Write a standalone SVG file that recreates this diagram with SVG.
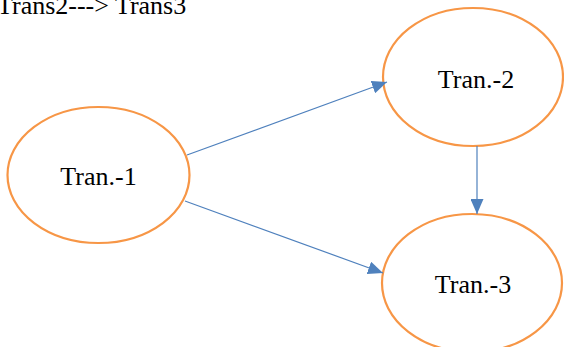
<svg xmlns="http://www.w3.org/2000/svg" width="564" height="347" viewBox="0 0 564 347">
<style>
.node ellipse{fill:#ffffff;stroke:#f79646;stroke-width:2.2}
.edge{stroke:#4f81bd;stroke-width:1.2;fill:none;marker-end:url(#ah)}
</style>
<defs>
<marker id="ah" markerUnits="userSpaceOnUse" markerWidth="15" markerHeight="13" refX="15" refY="6.5" orient="auto">
<path d="M0,0 L15,6.5 L0,13 z" fill="#4f81bd"/>
</marker>
</defs>
<rect width="564" height="347" fill="#ffffff"/>
<g font-family="Liberation Serif" font-size="26" fill="#000000">
<text x="-3" y="14">Trans2---&gt; Trans3</text>
<g id="n1" class="node">
<ellipse cx="98.5" cy="175" rx="91" ry="68"/>
<text x="98.5" y="185" text-anchor="middle">Tran.-1</text>
</g>
<g id="n2" class="node">
<ellipse cx="473" cy="77" rx="90" ry="69"/>
<text x="476" y="88" text-anchor="middle">Tran.-2</text>
</g>
<g id="n3" class="node">
<ellipse cx="472" cy="283" rx="90" ry="69"/>
<text x="473" y="293" text-anchor="middle">Tran.-3</text>
</g>
</g>
<g id="edges">
<line class="edge" x1="187" y1="155" x2="387" y2="82"/>
<line class="edge" x1="185" y1="201" x2="383" y2="273"/>
<line class="edge" x1="477" y1="146" x2="477" y2="214"/>
</g>
</svg>
